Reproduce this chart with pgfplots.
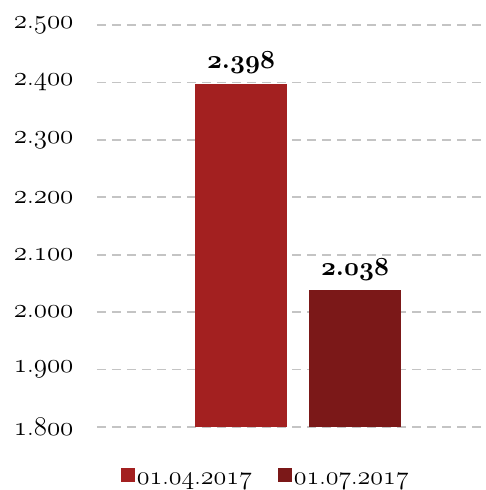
\RequirePackage{fix-cm}
\documentclass[border=0pt]{standalone}
\usepackage{pgfplots}
\pgfplotsset{compat=1.18}
\definecolor{barA}{HTML}{A32020}
\definecolor{barB}{HTML}{7B1818}
\definecolor{gridc}{HTML}{C4C4C4}
\newcommand\os[1]{{\fontencoding{OML}\fontfamily{cmm}\fontshape{it}\selectfont#1}}
\newcommand\nm[2]{\os{#1}.\os{#2}}
\begin{document}
\begin{tikzpicture}
\begin{axis}[
  scale only axis, width=389pt, height=402pt,
  xmin=-1.263, xmax=2.149, ymin=1800, ymax=2500,
  axis line style={draw=none}, tick style={draw=none},
  xtick=\empty,
  ytick={1800,1900,...,2500},
  yticklabels={\nm{1}{800},\nm{1}{900},\nm{2}{000},\nm{2}{100},\nm{2}{200},\nm{2}{300},\nm{2}{400},\nm{2}{500}},
  ymajorgrids, grid style={gridc, dash pattern=on 9pt off 6pt, line width=1.8pt},
  yticklabel style={font=\fontsize{27}{30}\selectfont, anchor=east, xshift=-20pt, text=black},
  ybar, bar width=92pt,
  nodes near coords, point meta=explicit symbolic,
  nodes near coords style={font=\fontsize{26}{30}\selectfont\bfseries, anchor=south, yshift=6pt, text=black},
  legend columns=2,
  legend image code/.code={\fill[#1, draw=none] (0pt,-2pt) rectangle (14pt,12pt);},
  legend style={draw=none, fill=none, at={(axis description cs:0.434,-0.127)}, anchor=center,
    font=\fontsize{26}{30}\selectfont, nodes={inner xsep=2pt, text=black},
    /tikz/every even column/.append style={column sep=24pt}},
]
\addplot[fill=barA, draw=none, bar shift=0pt] coordinates {(0,2398) [\nm{2}{398}]};
\addplot[fill=barB, draw=none, bar shift=0pt] coordinates {(1,2038) [\nm{2}{038}]};
\legend{\os{01}.\os{04}.\os{2017}, \os{01}.\os{07}.\os{2017}}
\end{axis}
\pgfresetboundingbox
\useasboundingbox (current axis.south west) ++(-97pt,-63pt) rectangle ++(486pt,490pt);
\end{tikzpicture}
\end{document}
